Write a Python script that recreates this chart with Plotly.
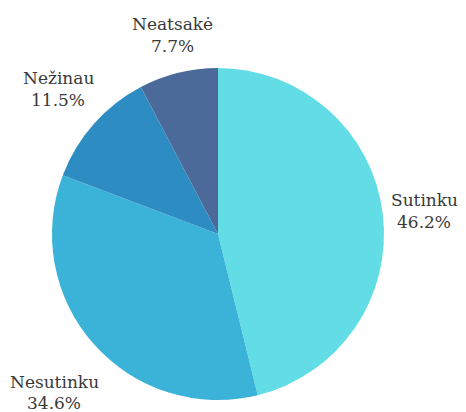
import plotly.graph_objects as go

labels = ["Sutinku", "Nesutinku", "Nežinau", "Neatsakė"]
values = [12, 9, 3, 2]
colors = ["#62DDE5", "#3BB3D8", "#2D8DC3", "#4B6A9A"]

# label anchor positions (pixels in the 466x412 figure): name line, percent line
label_xy = [(416, 192, 214), (46, 374, 395), (50, 70, 92), (164, 16, 38)]

W, H = 466, 412
fig = go.Figure(go.Pie(
    labels=labels,
    values=values,
    sort=False,
    direction="clockwise",
    rotation=0,
    marker=dict(colors=colors, line=dict(width=0)),
    textinfo="none",
    domain=dict(x=[44/W, 376/W], y=[1-394/H, 1-58/H]),
    showlegend=False,
    hoverinfo="skip",
))

total = sum(values)
font = dict(family="DejaVu Serif", size=17, color="#3a3a3a")
for lab, v, (x, y1, y2) in zip(labels, values, label_xy):
    fig.add_annotation(x=x/W, y=1-y1/H, xref="paper", yref="paper", text=lab,
                       showarrow=False, font=font, xanchor="center", yanchor="middle")
    fig.add_annotation(x=x/W, y=1-y2/H, xref="paper", yref="paper",
                       text=f"{100*v/total:.1f}%",
                       showarrow=False, font=font, xanchor="center", yanchor="middle")

fig.update_layout(
    width=W, height=H,
    margin=dict(l=0, r=0, t=0, b=0),
    paper_bgcolor="white",
    plot_bgcolor="white",
)
fig.write_html("out.html")
